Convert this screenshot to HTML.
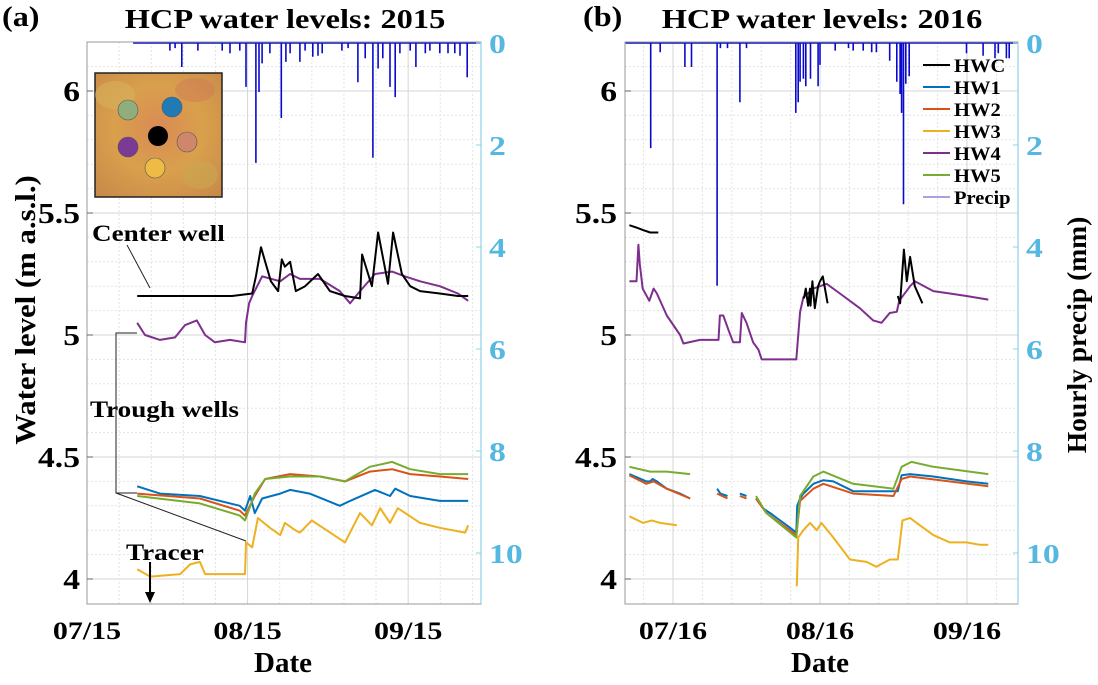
<!DOCTYPE html>
<html><head><meta charset="utf-8"><style>
body{margin:0;background:#fff;}
svg text{font-family:"Liberation Serif",serif;font-weight:bold;}
</style></head><body>
<svg id="chart" width="1098" height="680" viewBox="0 0 1098 680" xmlns="http://www.w3.org/2000/svg">
<g id="gridL"></g>
<g id="gridR"></g>
<g>
<defs><radialGradient id="mapg" cx="50%" cy="45%" r="70%"><stop offset="0" stop-color="#d98a55"/><stop offset="0.5" stop-color="#d9a04c"/><stop offset="1" stop-color="#c98a4a"/></radialGradient></defs>
<rect x="95" y="73" width="127" height="124" fill="url(#mapg)" stroke="#222" stroke-width="1.5"/>
<ellipse cx="115" cy="95" rx="20" ry="14" fill="#d7b05a" opacity="0.6"/>
<ellipse cx="200" cy="175" rx="18" ry="14" fill="#c9a650" opacity="0.6"/>
<ellipse cx="195" cy="90" rx="20" ry="12" fill="#cf7a55" opacity="0.5"/>
<circle cx="128" cy="110" r="10" fill="#8fae7c" stroke="#555" stroke-width="0.6"/>
<circle cx="172" cy="107" r="10" fill="#1f7ab5" stroke="#555" stroke-width="0.6"/>
<circle cx="158" cy="136" r="10" fill="#000"/>
<circle cx="128" cy="147" r="10" fill="#7b3a93" stroke="#555" stroke-width="0.6"/>
<circle cx="187" cy="142" r="10" fill="#cf876b" stroke="#555" stroke-width="0.6"/>
<circle cx="155" cy="168" r="10" fill="#eebb44" stroke="#555" stroke-width="0.6"/>
</g>
<g id="plotL"></g>
<g id="plotR"></g>
<rect x="87" y="42" width="394" height="562" fill="none" stroke="#999" stroke-width="1"/>
<line x1="481" y1="42" x2="481" y2="604" stroke="#8fd0ea" stroke-width="1.2"/>
<rect x="625" y="42" width="393" height="562" fill="none" stroke="#999" stroke-width="1"/>
<line x1="1018" y1="42" x2="1018" y2="604" stroke="#8fd0ea" stroke-width="1.2"/>
<g id="ticks"></g>
<text x="2" y="26" font-size="28" data-sx="1.15">(a)</text>
<text x="285" y="28" font-size="27" text-anchor="middle" data-sx="1.2">HCP water levels: 2015</text>
<text x="583" y="26" font-size="28" data-sx="1.15">(b)</text>
<text x="822" y="28" font-size="27" text-anchor="middle" data-sx="1.2">HCP water levels: 2016</text>
<text x="283" y="672" font-size="29" text-anchor="middle">Date</text>
<text x="820" y="672" font-size="29" text-anchor="middle">Date</text>
<text transform="translate(35,310) rotate(-90)" font-size="28" text-anchor="middle" data-sx="1.1">Water level (m a.s.l.)</text>
<text transform="translate(1086,335) rotate(-90)" font-size="27" text-anchor="middle" data-sx="1.02">Hourly precip (mm)</text>
<text x="92" y="241" font-size="23" data-sx="1.18">Center well</text>
<line x1="127" y1="245" x2="150" y2="288" stroke="#222" stroke-width="1"/>
<text x="90" y="417" font-size="23" data-sx="1.18">Trough wells</text>
<polyline points="137,333 116,333 116,493 137,493" fill="none" stroke="#222" stroke-width="1"/>
<line x1="116" y1="493" x2="246" y2="541" stroke="#222" stroke-width="1"/>
<text x="126" y="560" font-size="23" data-sx="1.18">Tracer</text>
<line x1="150" y1="562" x2="150" y2="594" stroke="#000" stroke-width="2"/>
<polygon points="145,592 155,592 150,603" fill="#000"/>
<g id="legend"></g>
</svg>
<script>
const monthLabels2015 = ["07/15","08/15","09/15"];
const monthDays2015 = [14,45,76];
const monthLabels2016 = ["07/16","08/16","09/16"];
const monthDays2016 = [15,46,77];
const wlTicks = [4,4.5,5,5.5,6];
const wlTickLabels = ["4","4.5","5","5.5","6"];
const pTicks = [0,2,4,6,8,10];

const hwcDay15 = [23.7,30,36,42,45.9,46.6,47.6,48.4,49.5,50.9,51.6,52.2,53.2,54.3,56.1,58.6,60.9,63.8,66.7,67.1,69.0,70.2,72.1,73.1,74.8,76.4,78.3,82.1,85.6,87.6];
const hwcVal15 = [5.16,5.16,5.16,5.16,5.17,5.24,5.36,5.3,5.22,5.18,5.31,5.28,5.30,5.18,5.20,5.25,5.18,5.16,5.15,5.33,5.20,5.42,5.21,5.42,5.25,5.20,5.18,5.17,5.16,5.16];
const hw4Day15 = [23.7,25.2,28.1,31.0,32.9,35.2,36.8,38.7,41.6,44.5,44.7,45.3,45.9,47.8,51.3,53.2,55.1,59.0,62.8,64.8,66.7,69.6,72.9,75.4,78.3,82.1,85.6,87.6];
const hw4Val15 = [5.05,5.0,4.98,4.99,5.04,5.06,5.0,4.97,4.98,4.97,5.05,5.13,5.16,5.24,5.22,5.25,5.23,5.23,5.18,5.13,5.18,5.25,5.26,5.24,5.22,5.20,5.17,5.14];
const hw1Day15 = [23.7,28.1,35.8,43.5,44.5,45.5,46.4,47.8,51.3,53.2,57.0,62.8,64.8,69.6,72.5,73.5,76.4,82.1,87.6];
const hw1Val15 = [4.38,4.35,4.34,4.30,4.28,4.34,4.27,4.33,4.35,4.365,4.35,4.30,4.32,4.365,4.34,4.37,4.34,4.32,4.32];
const hw2Day15 = [23.7,35.8,43.5,44.5,46.4,48.4,53.2,59.0,63.8,68.6,72.9,76.4,82.1,87.6];
const hw2Val15 = [4.35,4.33,4.28,4.26,4.34,4.41,4.43,4.42,4.40,4.44,4.45,4.43,4.42,4.41];
const hw5Day15 = [23.7,35.8,43.5,44.5,46.4,48.4,53.2,59.0,63.8,68.6,72.9,76.4,82.1,87.6];
const hw5Val15 = [4.34,4.31,4.26,4.24,4.35,4.41,4.42,4.42,4.40,4.46,4.48,4.45,4.43,4.43];
const hw3Day15 = [23.7,26.2,32.0,33.9,35.8,36.8,44.5,44.7,45.9,47.0,49.3,51.3,52.2,54.2,55.1,57.4,63.8,66.7,69.0,70.6,72.5,74.0,78.3,82.1,87.0,87.6];
const hw3Val15 = [4.04,4.01,4.02,4.06,4.07,4.02,4.02,4.15,4.13,4.25,4.21,4.18,4.23,4.20,4.19,4.24,4.15,4.27,4.22,4.29,4.23,4.29,4.23,4.21,4.19,4.22];
const pDay15 = [30.0,31.0,32.3,35.4,40.1,41.6,43.5,44.7,46.6,47.2,47.8,49.3,51.5,52.4,53.2,55.1,56.1,57.6,58.6,59.4,63.2,64.4,66.3,67.7,69.2,70.2,71.1,72.5,73.5,74.4,76.4,77.5,79.3,80.2,82.1,83.7,85.0,86.0,87.4];
const pVal15 = [0.15,0.1,0.47,0.15,0.15,0.2,0.15,0.86,2.35,0.96,0.4,0.2,1.47,0.37,0.2,0.37,0.15,0.27,0.25,0.2,0.15,0.1,0.77,0.3,2.25,0.5,0.3,0.86,1.06,0.2,0.15,0.47,0.2,0.15,0.2,0.2,0.2,0.25,0.67];

const hwcDayA16 = [5.8,7.3,8.7,10.2,11.9];
const hwcValA16 = [5.45,5.44,5.43,5.42,5.42];
const hwcDayB16 = [42.6,43.0,43.5,43.9,44.0,44.4,44.9,45.6,46.0,46.6,47.6];
const hwcValB16 = [5.15,5.19,5.12,5.19,5.12,5.22,5.11,5.20,5.22,5.24,5.13];
const hwcDayC16 = [62.4,62.9,63.7,64.3,65.0,66.0,67.6];
const hwcValC16 = [5.16,5.13,5.35,5.22,5.32,5.20,5.13];
const hw4Day16 = [5.8,7.3,7.7,8.0,8.6,10.0,10.9,11.6,13.7,16.5,17.2,20.7,24.6,24.9,25.6,26.7,27.7,29.1,29.5,30.5,31.9,33.0,33.7,36.9,41.0,41.8,42.5,44.6,47.4,50.2,54.4,57.2,59.0,60.7,62.2,62.7,65.0,66.0,69.9,73.4,76.9,81.5];
const hw4Val16 = [5.22,5.22,5.37,5.29,5.19,5.14,5.19,5.17,5.08,5.0,4.965,4.98,4.98,5.08,5.08,5.02,4.97,4.97,5.09,5.05,4.97,4.94,4.90,4.90,4.90,5.095,5.155,5.19,5.21,5.17,5.11,5.06,5.05,5.09,5.095,5.14,5.20,5.22,5.18,5.17,5.16,5.145];
const hw1Day16 = [5.8,9.4,10.2,10.7,11.6,13.7,16.5,18.6,null,24.3,25.0,26.5,null,29.1,30.5,null,32.5,34.0,34.7,35.5,36.2,36.9,39.0,41.0,41.2,41.8,42.5,44.6,46.7,48.8,53.0,57.2,61.5,62.4,63.2,65.0,69.9,76.9,81.5];
const hw1Val16 = [4.43,4.40,4.40,4.41,4.40,4.37,4.35,4.33,null,4.37,4.35,4.34,null,4.35,4.34,null,4.33,4.29,4.28,4.27,4.26,4.25,4.22,4.19,4.30,4.33,4.35,4.39,4.405,4.40,4.36,4.36,4.36,4.36,4.425,4.43,4.42,4.40,4.39];
const hw2Day16 = [5.8,9.4,10.9,13.7,18.6,null,24.3,26.5,null,29.1,30.5,null,32.5,34.7,41.0,41.8,44.6,46.7,53.0,61.5,63.2,65.0,81.5];
const hw2Val16 = [4.425,4.39,4.40,4.37,4.33,null,4.35,4.33,null,4.34,4.33,null,4.33,4.27,4.18,4.32,4.37,4.39,4.35,4.34,4.41,4.42,4.38];
const hw5Day16 = [5.8,10.2,13.7,18.6,null,32.5,34.7,41.0,41.8,44.6,46.7,53.0,61.5,63.2,65.3,69.9,81.5];
const hw5Val16 = [4.46,4.44,4.44,4.43,null,4.34,4.27,4.17,4.34,4.42,4.44,4.39,4.37,4.46,4.48,4.46,4.43];
const hw3Day16 = [5.8,8.7,10.5,12.3,15.8,null,41.1,41.4,42.5,43.9,45.3,46.3,48.8,52.3,55.8,57.9,60.7,62.4,63.4,65.0,66.4,69.9,73.4,76.9,79.7,81.5];
const hw3Val16 = [4.257,4.23,4.24,4.23,4.22,null,3.97,4.17,4.20,4.23,4.20,4.23,4.17,4.08,4.07,4.05,4.08,4.08,4.24,4.25,4.23,4.18,4.15,4.15,4.14,4.14];
const pDay16 = [10.3,12.3,17.5,18.9,24.3,25.0,26.5,29.1,30.5,40.9,41.4,41.8,42.5,43.0,44.0,45.6,46.0,49.2,52.0,53.0,55.1,56.9,57.9,60.7,62.2,62.9,63.2,63.6,64.1,64.8,76.9,80.4,82.9,83.6,85.3,85.9];
const pVal16 = [2.06,0.18,0.47,0.47,4.76,0.1,0.1,1.16,0.1,1.37,1.16,0.76,0.7,0.85,0.7,0.85,0.43,0.15,0.1,0.15,0.15,0.18,0.18,0.35,0.76,1.0,1.37,3.16,0.8,0.65,0.2,0.25,0.3,0.2,0.3,0.3];

const seriesNames = ["HWC","HW1","HW2","HW3","HW4","HW5","Precip"];
const seriesColors = ["#000000","#0072BD","#D95319","#EDB120","#7E2F8E","#77AC30","#7B68C8"];

const NS="http://www.w3.org/2000/svg";
function xL(d){return 87+(d-14)*5.18;}
function xR(d){return 673+(d-15)*4.742;}
function yW(v){return 579-(v-4)*244;}
function yP(mm){return 43+mm*51;}
function mk(tag,attrs,parent){const e=document.createElementNS(NS,tag);for(const k in attrs)e.setAttribute(k,attrs[k]);parent.appendChild(e);return e;}

function grid(g,x0,x1,xf,days){
  for(let v=3.9;v<=6.2;v+=0.1){
    const y=yW(v); if(y<43||y>603)continue;
    const major=Math.abs(v*2-Math.round(v*2))<0.01;
    const l=mk("line",{x1:x0,x2:x1,y1:y,y2:y,stroke:major?"#d6d6d6":"#e4e4e4","stroke-width":1,"stroke-dasharray":major?"":"2,2"},g);
    
    
  }
  for(let i=-1;i<days.length;i++){
    const base=i<0?days[0]-31:days[i];
    for(let k=0;k<5;k++){
      const x=xf(base+k*31/5); if(x<=x0+1||x>=x1-1)continue;
      const l=mk("line",{x1:x,x2:x,y1:42,y2:604,stroke:k==0?"#d6d6d6":"#e4e4e4","stroke-width":1,"stroke-dasharray":k==0?"":"2,2"},g);
      
      
    }
  }
}
grid(document.getElementById("gridL"),87,481,xL,monthDays2015);
grid(document.getElementById("gridR"),625,1018,xR,monthDays2016);

function line(g,xf,days,vals,color,name){
  let d="",pen=false;
  for(let i=0;i<days.length;i++){
    if(days[i]===null){pen=false;continue;}
    d+=(pen?"L":"M")+xf(days[i]).toFixed(1)+","+yW(vals[i]).toFixed(1);pen=true;
  }
  const p=mk("path",{d:d,fill:"none",stroke:color,"stroke-width":2,"stroke-linejoin":"round"},g);
  
  
}
function precip(g,xf,start,end,days,vals,name){
  let d="M"+xf(start).toFixed(1)+","+yP(0)+"L"+xf(end).toFixed(1)+","+yP(0);
  for(let i=0;i<days.length;i++){const x=xf(days[i]).toFixed(1);d+="M"+x+","+yP(0)+"L"+x+","+yP(vals[i]).toFixed(1);}
  const p=mk("path",{d:d,fill:"none",stroke:"#0a0acc","stroke-width":1.6},g);
  
  
}
const gL=document.getElementById("plotL"), gR=document.getElementById("plotR");
precip(gL,xL,22.9,90,pDay15,pVal15,"precip-2015");
line(gL,xL,hw3Day15,hw3Val15,seriesColors[3],"hw3-2015");
line(gL,xL,hw1Day15,hw1Val15,seriesColors[1],"hw1-2015");
line(gL,xL,hw2Day15,hw2Val15,seriesColors[2],"hw2-2015");
line(gL,xL,hw5Day15,hw5Val15,seriesColors[5],"hw5-2015");
line(gL,xL,hw4Day15,hw4Val15,seriesColors[4],"hw4-2015");
line(gL,xL,hwcDay15,hwcVal15,seriesColors[0],"hwc-2015");
precip(gR,xR,5,87.8,pDay16,pVal16,"precip-2016");
line(gR,xR,hw3Day16,hw3Val16,seriesColors[3],"hw3-2016");
line(gR,xR,hw1Day16,hw1Val16,seriesColors[1],"hw1-2016");
line(gR,xR,hw2Day16,hw2Val16,seriesColors[2],"hw2-2016");
line(gR,xR,hw5Day16,hw5Val16,seriesColors[5],"hw5-2016");
line(gR,xR,hw4Day16,hw4Val16,seriesColors[4],"hw4-2016");
line(gR,xR,hwcDayA16,hwcValA16,seriesColors[0],"hwc-2016-a");
line(gR,xR,hwcDayB16,hwcValB16,seriesColors[0],"hwc-2016-b");
line(gR,xR,hwcDayC16,hwcValC16,seriesColors[0],"hwc-2016-c");

const tg=document.getElementById("ticks");
function txt(x,y,s,anchor,size,fill,sx,name){
  const t=mk("text",{x:x,y:y,"text-anchor":anchor,"font-size":size,fill:fill,"data-sx":sx},tg);t.textContent=s;
  
  
}
wlTicks.forEach((v,i)=>{
  txt(80,yW(v)+10,wlTickLabels[i],"end",28,"#000",1.2,"y-tick-2015");
  txt(617,yW(v)+10,wlTickLabels[i],"end",28,"#000",1.2,"y-tick-2016");
  mk("line",{x1:87,x2:93,y1:yW(v),y2:yW(v),stroke:"#666"},tg);
  mk("line",{x1:625,x2:631,y1:yW(v),y2:yW(v),stroke:"#666"},tg);
});
pTicks.forEach(v=>{
  txt(489,yP(v)+10,String(v),"start",27,"#55b8e0",1.25,"y2-tick-2015");
  txt(1026,yP(v)+10,String(v),"start",27,"#55b8e0",1.25,"y2-tick-2016");
  mk("line",{x1:476,x2:481,y1:yP(v),y2:yP(v),stroke:"#8fd0ea"},tg);
  mk("line",{x1:1013,x2:1018,y1:yP(v),y2:yP(v),stroke:"#8fd0ea"},tg);
});
monthDays2015.forEach((d,i)=>txt(xL(d),639,monthLabels2015[i],"middle",25,"#000",1.2,"x-tick-2015"));
monthDays2016.forEach((d,i)=>txt(xR(d),639,monthLabels2016[i],"middle",25,"#000",1.2,"x-tick-2016"));

const lg=document.getElementById("legend");
seriesNames.forEach((n,i)=>{
  const y=65+i*22;
  const l=mk("line",{x1:923,x2:950,y1:y,y2:y,stroke:seriesColors[i],"stroke-width":i==6?1.3:2},lg);
  
  
  const t=mk("text",{x:954,y:y+7,"font-size":19,"data-sx":1.08},lg);t.textContent=n;
  
  
});

// horizontal stretch of text (reference figure is horizontally stretched)
document.querySelectorAll("text[data-sx]").forEach(t=>{
  const sx=parseFloat(t.getAttribute("data-sx"));
  const tr=t.getAttribute("transform");
  if(tr){t.setAttribute("transform",tr+" scale("+sx+",1)");}
  else{
    const x=parseFloat(t.getAttribute("x")),y=parseFloat(t.getAttribute("y"));
    t.setAttribute("x",0);t.setAttribute("y",0);
    t.setAttribute("transform","translate("+x+","+y+") scale("+sx+",1)");
  }
});
</script>
</body></html>
